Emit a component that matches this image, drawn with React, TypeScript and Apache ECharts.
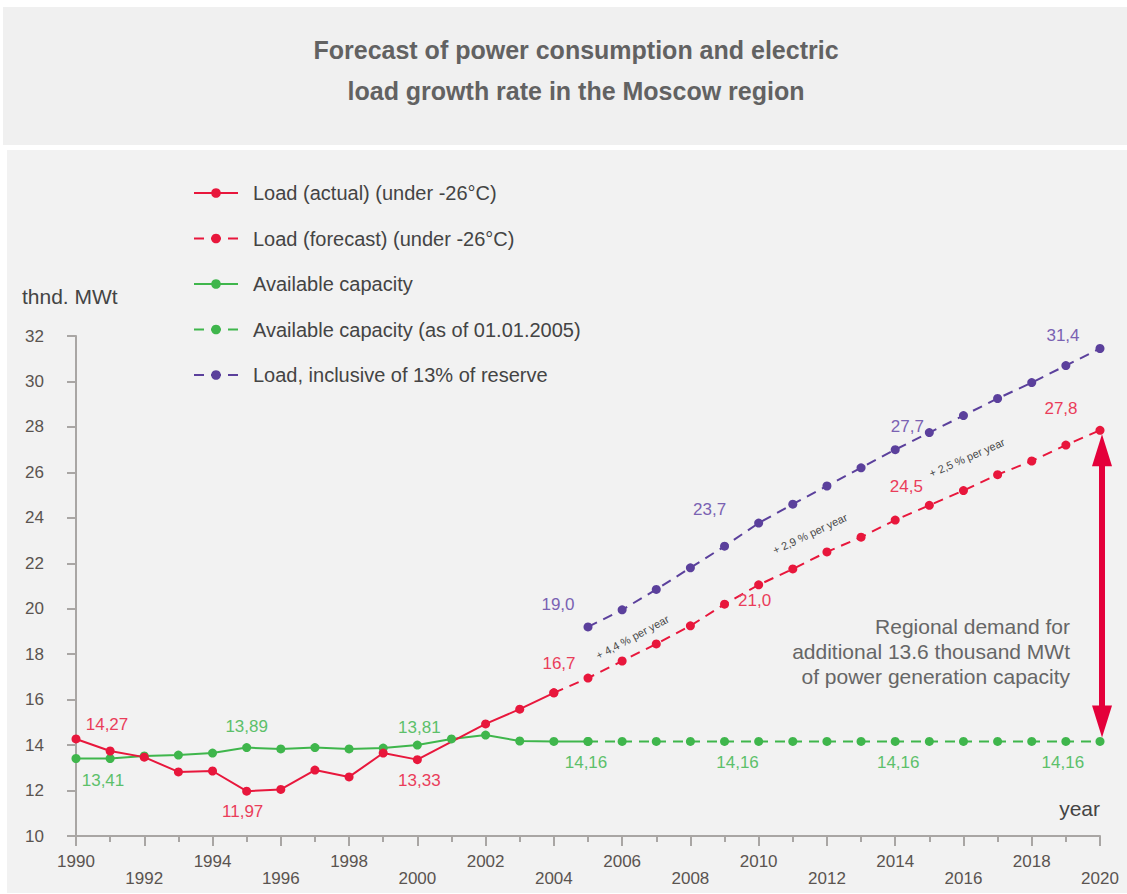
import React, { useEffect, useRef } from "react";
import * as echarts from "echarts";

// ---------- data ----------
const YEARS_ACTUAL = [1990, 1991, 1992, 1993, 1994, 1995, 1996, 1997, 1998, 1999, 2000, 2002, 2003, 2004];
const LOAD_ACTUAL = [14.27, 13.74, 13.47, 12.82, 12.86, 11.97, 12.05, 12.9, 12.6, 13.65, 13.36, 14.93, 15.58, 16.3];

const YEARS_LOAD_FORECAST = [2004, 2005, 2006, 2007, 2008, 2009, 2010, 2011, 2012, 2013, 2014, 2015, 2016, 2017, 2018, 2019, 2020];
const LOAD_FORECAST = [16.3, 16.95, 17.7, 18.45, 19.25, 20.2, 21.05, 21.75, 22.5, 23.15, 23.9, 24.55, 25.2, 25.9, 26.5, 27.2, 27.85];

const YEARS_CAPACITY = [1990, 1991, 1992, 1993, 1994, 1995, 1996, 1997, 1998, 1999, 2000, 2001, 2002, 2003, 2004, 2005];
const CAPACITY = [13.41, 13.41, 13.52, 13.56, 13.65, 13.89, 13.83, 13.89, 13.83, 13.87, 14.0, 14.27, 14.44, 14.18, 14.16, 14.16];

const YEARS_CAP_FORECAST = [2005, 2006, 2007, 2008, 2009, 2010, 2011, 2012, 2013, 2014, 2015, 2016, 2017, 2018, 2019, 2020];
const CAPACITY_FORECAST = [14.16, 14.16, 14.16, 14.16, 14.16, 14.16, 14.16, 14.16, 14.16, 14.16, 14.16, 14.16, 14.16, 14.16, 14.16, 14.16];

const YEARS_RESERVE = [2005, 2006, 2007, 2008, 2009, 2010, 2011, 2012, 2013, 2014, 2015, 2016, 2017, 2018, 2019, 2020];
const LOAD_RESERVE = [19.2, 19.95, 20.85, 21.8, 22.75, 23.77, 24.6, 25.4, 26.2, 27.0, 27.75, 28.5, 29.25, 29.95, 30.7, 31.45];

// value labels shown on the chart
const LOAD_ACTUAL_LABELS: [number, string][] = [[1990, "14,27"], [1995, "11,97"], [2000, "13,33"]];
const LOAD_FORECAST_LABELS: [number, string][] = [[2005, "16,7"], [2010, "21,0"], [2015, "24,5"], [2020, "27,8"]];
const CAPACITY_LABELS: [number, string][] = [[1990, "13,41"], [1995, "13,89"], [2000, "13,81"]];
const CAP_FORECAST_LABELS: [number, string][] = [[2005, "14,16"], [2009, "14,16"], [2014, "14,16"], [2019, "14,16"]];
const RESERVE_LABELS: [number, string][] = [[2005, "19,0"], [2010, "23,7"], [2015, "27,7"], [2020, "31,4"]];

const SERIES_NAMES = [
  "Load (actual) (under -26°C)",
  "Load (forecast) (under -26°C)",
  "Available capacity",
  "Available capacity (as of 01.01.2005)",
  "Load, inclusive of 13% of reserve",
];

const GROWTH_NOTES: [number, number, string][] = [
  [2006.3, 18.75, "+ 4,4 % per year"],
  [2011.5, 23.3, "+ 2,9 % per year"],
  [2016.1, 26.65, "+ 2,5 % per year"],
];

const TITLE = "Forecast of power consumption and electric\nload growth rate in the Moscow region";
const DEMAND_NOTE = "Regional demand for\nadditional 13.6 thousand MWt\nof power generation capacity";

// ---------- styles ----------
const RED = "#e8173c";
const RED_LABEL = "#ea3d5a";
const GREEN = "#3fb64c";
const GREEN_LABEL = "#5cc06a";
const PURPLE = "#5b409c";
const PURPLE_LABEL = "#7a62b2";
const ARROW = "#e4003a";
const AXIS = "#a9a6a4";
const FONT = "'Liberation Sans', Arial, sans-serif";

const OFFSETS: Record<string, [number, number]> = {
  "la-1990": [31, -14],
  "la-1995": [-4, 20],
  "la-2000": [2, 21],
  "lf-2005": [-29, -15],
  "lf-2010": [-4, 16],
  "lf-2015": [-23, -19],
  "lf-2020": [-39, -22],
  "ca-1990": [27, 22],
  "ca-1995": [0, -21],
  "ca-2000": [2, -18],
  "cf-2005": [-2, 21],
  "cf-2009": [13, 21],
  "cf-2014": [3, 21],
  "cf-2019": [-3, 21],
  "r-2005": [-30, -22],
  "r-2010": [-49, -14],
  "r-2015": [-22, -6],
  "r-2020": [-37, -13],
};

function buildData(key: string, years: number[], values: number[], labels: [number, string][], color: string) {
  return years.map((y, i) => {
    const lab = labels.find((l) => l[0] === y);
    if (!lab) return [y, values[i]];
    return {
      value: [y, values[i]],
      label: {
        show: true,
        formatter: lab[1],
        position: "inside",
        offset: OFFSETS[`${key}-${y}`] || [0, -16],
        color,
        fontSize: 17,
        fontFamily: FONT,
      },
    };
  });
}

function lineSeries(name: string, data: any[], color: string, dashed: boolean) {
  return {
    name,
    type: "line",
    data,
    symbol: "circle",
    symbolSize: 9,
    showSymbol: true,
    itemStyle: { color },
    lineStyle: { color, width: 2, type: dashed ? [10, 7] : "solid" },
    label: { show: false },
    emphasis: { disabled: true },
  };
}

export default function App() {
  const ref = useRef<HTMLDivElement>(null);

  useEffect(() => {
    if (!ref.current) return;
    const chart = echarts.init(ref.current, undefined, { renderer: "svg" });

    const option: any = {
      animation: false,
      backgroundColor: "transparent",
      title: {
        text: TITLE,
        left: 571,
        top: 24,
        textAlign: "center",
        textStyle: {
          fontFamily: FONT,
          fontWeight: "bold",
          fontSize: 25,
          lineHeight: 41,
          color: "#626262",
        },
      },
      legend: {
        data: SERIES_NAMES,
        orient: "vertical",
        left: 188,
        top: 178,
        itemWidth: 44,
        itemHeight: 12,
        itemGap: 25.5,
        selectedMode: false,
        textStyle: {
          fontFamily: FONT,
          fontSize: 20,
          lineHeight: 20,
          color: "#444",
          padding: [0, 0, 0, 10],
        },
      },
      grid: { left: 76, right: 27, top: 336, bottom: 58, containLabel: false },
      xAxis: {
        type: "value",
        min: 1990,
        max: 2020,
        interval: 2,
        axisLine: { show: true, lineStyle: { color: AXIS, width: 2 } },
        axisTick: { show: true, length: 10, lineStyle: { color: AXIS, width: 2 } },
        minorTick: { show: true, splitNumber: 2, length: 6, lineStyle: { color: AXIS, width: 2 } },
        splitLine: { show: false },
        axisLabel: {
          margin: 17,
          fontFamily: FONT,
          fontSize: 17,
          lineHeight: 17,
          color: "#5a5450",
          formatter: (v: number) => ((v - 1990) % 4 === 0 ? `${v}` : `\n${v}`),
        },
      },
      yAxis: {
        type: "value",
        min: 10,
        max: 32,
        interval: 2,
        axisLine: { show: true, lineStyle: { color: AXIS, width: 2 } },
        axisTick: { show: true, length: 9, lineStyle: { color: AXIS, width: 2 } },
        splitLine: { show: false },
        axisLabel: {
          margin: 32,
          fontFamily: FONT,
          fontSize: 17,
          color: "#5a5450",
        },
      },
      series: [
        lineSeries(SERIES_NAMES[2], buildData("ca", YEARS_CAPACITY, CAPACITY, CAPACITY_LABELS, GREEN_LABEL), GREEN, false),
        lineSeries(SERIES_NAMES[3], buildData("cf", YEARS_CAP_FORECAST, CAPACITY_FORECAST, CAP_FORECAST_LABELS, GREEN_LABEL), GREEN, true),
        lineSeries(SERIES_NAMES[0], buildData("la", YEARS_ACTUAL, LOAD_ACTUAL, LOAD_ACTUAL_LABELS, RED_LABEL), RED, false),
        lineSeries(SERIES_NAMES[1], buildData("lf", YEARS_LOAD_FORECAST, LOAD_FORECAST, LOAD_FORECAST_LABELS, RED_LABEL), RED, true),
        lineSeries(SERIES_NAMES[4], buildData("r", YEARS_RESERVE, LOAD_RESERVE, RESERVE_LABELS, PURPLE_LABEL), PURPLE, true),
      ],
    };
    chart.setOption(option);

    const px = (x: number, y: number) => chart.convertToPixel({ gridIndex: 0 }, [x, y]) as number[];

    const topPt = px(2020, LOAD_FORECAST[LOAD_FORECAST.length - 1]);
    const botPt = px(2020, CAPACITY_FORECAST[CAPACITY_FORECAST.length - 1]);
    const ax = topPt[0] + 2;
    const tTip = topPt[1] + 4;
    const bTip = botPt[1] - 4;
    const headL = 32;
    const headW = 10;

    const axisTop = px(1990, 32);
    const axisEnd = px(2020, 10);

    const graphics: any[] = [
      {
        type: "rect",
        shape: { x: ax - 3, y: tTip + headL - 2, width: 6, height: bTip - tTip - 2 * headL + 4 },
        style: { fill: ARROW },
        z: 10,
      },
      {
        type: "polygon",
        shape: { points: [[ax, tTip], [ax - headW, tTip + headL], [ax + headW, tTip + headL]] },
        style: { fill: ARROW },
        z: 10,
      },
      {
        type: "polygon",
        shape: { points: [[ax, bTip], [ax - headW, bTip - headL], [ax + headW, bTip - headL]] },
        style: { fill: ARROW },
        z: 10,
      },
      {
        type: "text",
        x: 1070,
        y: 614,
        style: {
          text: DEMAND_NOTE,
          fill: "#666",
          fontSize: 21,
          fontFamily: FONT,
          lineHeight: 25,
          align: "right",
          verticalAlign: "top",
        },
        z: 10,
      },
      {
        type: "text",
        x: 22,
        y: axisTop[1] - 40,
        style: {
          text: "thnd. MWt",
          fill: "#444",
          fontSize: 21,
          fontFamily: FONT,
          align: "left",
          verticalAlign: "middle",
        },
      },
      {
        type: "text",
        x: axisEnd[0],
        y: axisEnd[1] - 28,
        style: {
          text: "year",
          fill: "#444",
          fontSize: 21,
          fontFamily: FONT,
          align: "right",
          verticalAlign: "middle",
        },
      },
    ];

    const angles = [0.49, 0.44, 0.41];
    GROWTH_NOTES.forEach(([x, y, text], i) => {
      const p = px(x, y);
      graphics.push({
        type: "text",
        x: p[0],
        y: p[1],
        rotation: angles[i],
        style: {
          text,
          fill: "#4a4a4a",
          fontSize: 11,
          fontFamily: FONT,
          align: "center",
          verticalAlign: "middle",
        },
        z: 10,
      });
    });

    chart.setOption({ graphic: graphics });

    return () => chart.dispose();
  }, []);

  return (
    <div style={{ position: "absolute", left: 0, top: 0, width: 1127, height: 894, background: "#fff" }}>
      <div style={{ position: "absolute", left: 3, top: 7, width: 1124, height: 138, background: "#f0f0f0" }} />
      <div style={{ position: "absolute", left: 7, top: 150, width: 1120, height: 743, background: "#f2f2f2" }} />
      <div ref={ref} style={{ position: "absolute", left: 0, top: 0, width: 1127, height: 894 }} />
    </div>
  );
}
